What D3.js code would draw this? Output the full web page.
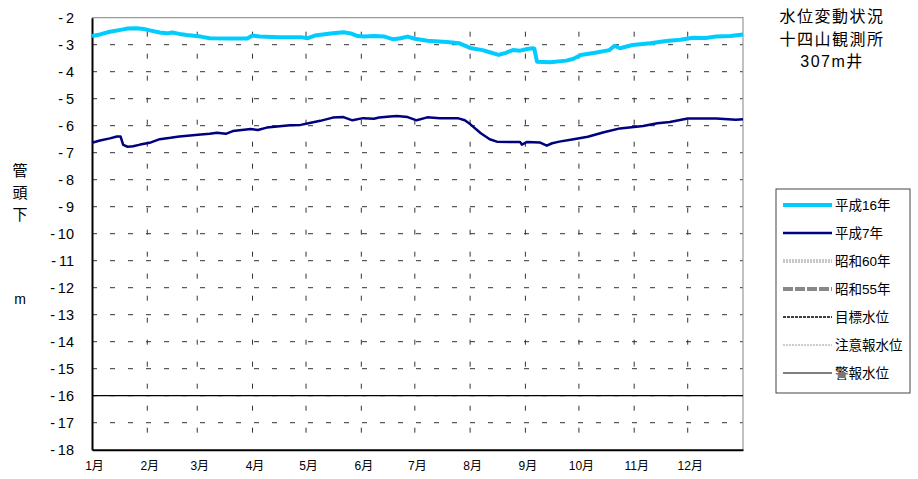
<!DOCTYPE html>
<html>
<head>
<meta charset="utf-8">
<script src="https://cdn.jsdelivr.net/npm/d3@7"></script>
<style>
  body { margin: 0; background: #fff; }
  text { font-family: "Liberation Sans", Arial, "Noto Sans CJK JP", sans-serif; }
</style>
</head>
<body>
<svg id="chart" width="918" height="479"></svg>
<script>
// month labels and their start day-of-year
const months = ["1月","2月","3月","4月","5月","6月","7月","8月","9月","10月","11月","12月"];
const monthStart = [0, 31, 59, 90, 120, 151, 181, 212, 243, 273, 304, 334, 365];
const yTicks = d3.range(-2, -19, -1);

// 平成16年 (day of year, level m)
const h16Days = [0,4.5,10,16,20,25,29,33,38,42,45,49,53,61,66,77,87,90,94,105,117,121,125,135,141,145,149,153,158,164,169,173,177,181,188,199,206,212,219,223,228,232,236,240,244,247,248,249.5,257,266,270,274,282,290,293,296,303,313,322,330,337,344,350,358,365];
const h16Vals = [-2.68,-2.62,-2.52,-2.45,-2.40,-2.39,-2.42,-2.48,-2.55,-2.58,-2.55,-2.60,-2.64,-2.70,-2.76,-2.77,-2.77,-2.66,-2.70,-2.72,-2.72,-2.76,-2.66,-2.58,-2.54,-2.58,-2.68,-2.70,-2.68,-2.70,-2.80,-2.76,-2.70,-2.78,-2.85,-2.90,-2.95,-3.12,-3.20,-3.28,-3.38,-3.30,-3.20,-3.22,-3.16,-3.13,-3.15,-3.63,-3.65,-3.59,-3.52,-3.38,-3.30,-3.20,-3.04,-3.13,-3.01,-2.95,-2.86,-2.82,-2.74,-2.75,-2.70,-2.68,-2.62];

// 平成7年
const h7Days = [0,4.5,10,14,16,17.5,20,23,27,33,38,44,49,61,66,70,75,79,89,93,98,111,117,122,128,135,141,146,152,158,161,167,171,177,182,188,195,205,209,212,218,223,227,234,240,241,244,251,255,258,262,270,278,287,296,309,317,324,334,350,361,365];
const h7Vals = [-6.63,-6.55,-6.47,-6.40,-6.40,-6.71,-6.78,-6.76,-6.70,-6.62,-6.50,-6.45,-6.40,-6.33,-6.30,-6.26,-6.30,-6.20,-6.12,-6.16,-6.07,-5.98,-5.97,-5.90,-5.82,-5.70,-5.68,-5.80,-5.72,-5.74,-5.70,-5.66,-5.64,-5.68,-5.80,-5.69,-5.72,-5.72,-5.80,-5.94,-6.28,-6.50,-6.59,-6.60,-6.60,-6.70,-6.60,-6.62,-6.74,-6.65,-6.59,-6.50,-6.41,-6.24,-6.10,-6.01,-5.91,-5.86,-5.73,-5.73,-5.78,-5.76];

const alarmLevel = -16;

const titleLines = ["水位変動状況", "十四山観測所", "307m井"];
const yLabelChars = ["管", "頭", "下"];

const legendItems = [
  {name: "平成16年", color: "#00ccff", width: 4, dash: null},
  {name: "平成7年", color: "#000080", width: 2.5, dash: null},
  {name: "昭和60年", color: "#c8c8c8", width: 4, dash: "2,1"},
  {name: "昭和55年", color: "#888888", width: 4, dash: "10,2"},
  {name: "目標水位", color: "#000000", width: 1.3, dash: "3,1"},
  {name: "注意報水位", color: "#999999", width: 1, dash: "2,1"},
  {name: "警報水位", color: "#000000", width: 1.2, dash: null}
];

const svg = d3.select("#chart");
const margin = {left: 92, right: 743, top: 17.7, bottom: 449.7};

const x = d3.scaleLinear().domain([0, 365]).range([margin.left, margin.right]);
const y = d3.scaleLinear().domain([-2, -18]).range([margin.top, margin.bottom]);

// grid: horizontal dashed
svg.append("g").selectAll("line")
  .data(yTicks.filter(v => v < -2 && v > -18))
  .join("line")
  .attr("x1", margin.left).attr("x2", margin.right)
  .attr("y1", d => y(d)).attr("y2", d => y(d))
  .attr("stroke", "#333").attr("stroke-width", 1)
  .attr("stroke-dasharray", "5,13");

// grid: vertical dashed at month starts
svg.append("g").selectAll("line")
  .data(monthStart.slice(1, 12))
  .join("line")
  .attr("x1", d => x(d)).attr("x2", d => x(d))
  .attr("y1", margin.top).attr("y2", margin.bottom)
  .attr("stroke", "#333").attr("stroke-width", 1)
  .attr("stroke-dasharray", "5,17")
  .attr("stroke-dashoffset", -14);

// top and right frame (gray)
svg.append("path")
  .attr("d", `M${margin.left},${margin.top}H${margin.right}V${margin.bottom}`)
  .attr("fill", "none").attr("stroke", "#999").attr("stroke-width", 1.2);

// alarm level line
svg.append("line")
  .attr("x1", margin.left).attr("x2", margin.right)
  .attr("y1", y(alarmLevel)).attr("y2", y(alarmLevel))
  .attr("stroke", "#000").attr("stroke-width", 1.2);

// left & bottom axes
const yAxis = svg.append("g")
  .attr("transform", `translate(${margin.left},0)`)
  .call(d3.axisLeft(y).tickValues(yTicks).tickSize(0).tickPadding(18));
yAxis.select(".domain").attr("stroke", "#000").attr("stroke-width", 2);
yAxis.selectAll("text").attr("font-size", 14.5).attr("fill", "#000")
  .attr("font-family", "'Liberation Sans', Arial, sans-serif")
  .text(d => "-\u2009" + Math.abs(d));

const xAxis = svg.append("g")
  .attr("transform", `translate(0,${margin.bottom})`)
  .call(d3.axisBottom(x).tickValues(monthStart.slice(0, 12)).tickSize(0).tickPadding(12)
    .tickFormat((d, i) => months[i]));
xAxis.select(".domain").attr("stroke", "#000").attr("stroke-width", 2);
xAxis.selectAll("text").attr("font-size", 12).attr("fill", "#000").attr("dx", 2);

// series
const line = d3.line().x(d => x(d[0])).y(d => y(d[1]));
svg.append("path")
  .datum(h16Days.map((d, i) => [d, h16Vals[i]]))
  .attr("d", line).attr("fill", "none")
  .attr("stroke", "#00ccff").attr("stroke-width", 4).attr("stroke-linejoin", "round");
svg.append("path")
  .datum(h7Days.map((d, i) => [d, h7Vals[i]]))
  .attr("d", line).attr("fill", "none")
  .attr("stroke", "#000080").attr("stroke-width", 2.5).attr("stroke-linejoin", "round");

// y axis title
svg.append("g").selectAll("text")
  .data(yLabelChars)
  .join("text")
  .attr("x", 20).attr("y", (d, i) => 176 + i * 22)
  .attr("text-anchor", "middle").attr("font-size", 15)
  .attr("font-family", "'Noto Sans CJK JP', sans-serif")
  .text(d => d);
svg.append("text")
  .attr("x", 20).attr("y", 304)
  .attr("text-anchor", "middle").attr("font-size", 14)
  .text("m");

// chart title
svg.append("g").selectAll("text")
  .data(titleLines)
  .join("text")
  .attr("x", 832).attr("y", (d, i) => 22 + i * 22.5)
  .attr("text-anchor", "middle").attr("font-size", 16)
  .attr("letter-spacing", 1.5)
  .attr("font-family", "'Noto Sans CJK JP', sans-serif")
  .text(d => d);

// legend
const lg = svg.append("g");
lg.append("rect")
  .attr("x", 776).attr("y", 189).attr("width", 134).attr("height", 204)
  .attr("fill", "#fff").attr("stroke", "#444").attr("stroke-width", 1);
const items = lg.selectAll("g.item")
  .data(legendItems)
  .join("g")
  .attr("class", "item")
  .attr("transform", (d, i) => `translate(0,${205 + i * 28})`);
items.append("line")
  .attr("x1", 783).attr("x2", 832).attr("y1", 0).attr("y2", 0)
  .attr("stroke", d => d.color).attr("stroke-width", d => d.width)
  .attr("stroke-dasharray", d => d.dash);
items.append("text")
  .attr("x", 835).attr("y", 5)
  .attr("font-size", 13.5)
  .attr("font-family", "'Noto Sans CJK JP', sans-serif")
  .text(d => d.name);
</script>
</body>
</html>
